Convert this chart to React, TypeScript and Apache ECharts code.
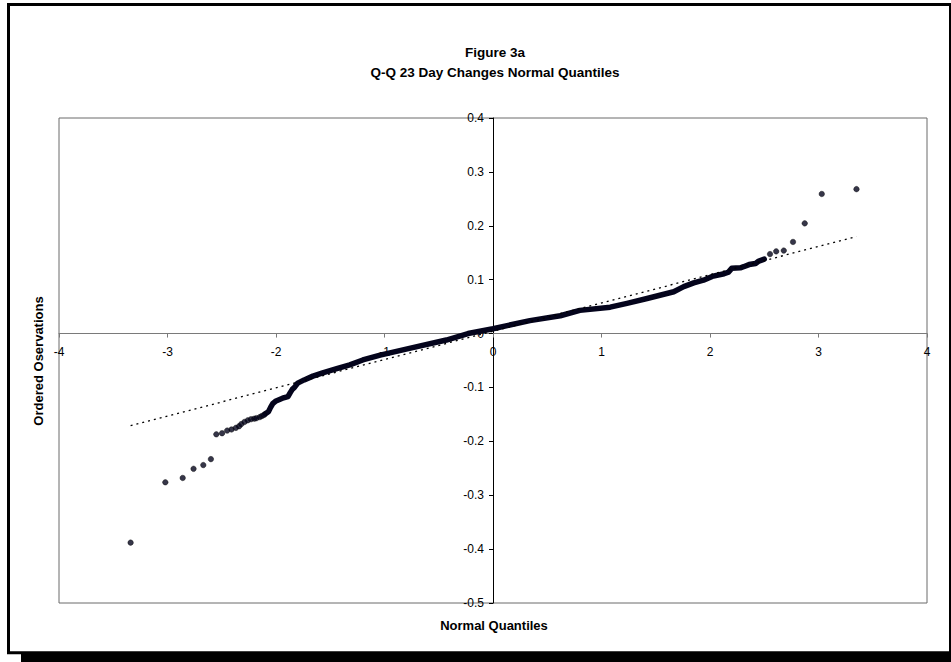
import React, { useEffect, useRef } from "react";
import * as echarts from "echarts";

const lowerTailQ = [-3.34, -3.02, -2.86, -2.76, -2.67, -2.6, -2.55, -2.497, -2.45, -2.41, -2.37, -2.34, -2.32, -2.29, -2.26, -2.23, -2.2, -2.18, -2.15, -2.13, -2.11];
const lowerTailV = [-0.388, -0.276, -0.268, -0.251, -0.244, -0.233, -0.187, -0.185, -0.18, -0.178, -0.175, -0.172, -0.168, -0.164, -0.161, -0.159, -0.158, -0.157, -0.155, -0.153, -0.151];

const curveQ = [-2.1, -2.07, -2.05, -2.03, -2.0, -1.94, -1.89, -1.87, -1.85, -1.83, -1.8, -1.74, -1.66, -1.57, -1.44, -1.32, -1.2, -1.04, -0.74, -0.43, -0.23, 0, 0.34, 0.62, 0.8, 1.08, 1.235, 1.42, 1.666, 1.758, 1.85, 1.94, 2.02, 2.13, 2.17, 2.2, 2.28, 2.31, 2.36, 2.42, 2.45, 2.5];
const curveV = [-0.149, -0.145, -0.137, -0.13, -0.125, -0.12, -0.117, -0.11, -0.1035, -0.1, -0.092, -0.086, -0.079, -0.073, -0.065, -0.058, -0.049, -0.04, -0.026, -0.012, 0.0, 0.009, 0.024, 0.033, 0.043, 0.049, 0.056, 0.065, 0.0776, 0.087, 0.094, 0.099, 0.106, 0.111, 0.114, 0.121, 0.122, 0.124, 0.128, 0.13, 0.1345, 0.138];

const upperTailQ = [2.553, 2.61, 2.68, 2.765, 2.873, 3.03, 3.35];
const upperTailV = [0.1475, 0.1525, 0.154, 0.17, 0.2045, 0.259, 0.268];

const trendQ = [-3.34, 3.35];
const trendV = [-0.171, 0.18];

const titleLines = ["Figure 3a", "Q-Q 23 Day Changes Normal Quantiles"];
const xAxisName = "Normal Quantiles";
const yAxisName = "Ordered Oservations";

const FONT = '"Liberation Sans", Arial, Helvetica, sans-serif';
const DOT = "#04041c";

const X_MIN = -4;
const X_MAX = 4;
const Y_MIN = -0.5;
const Y_MAX = 0.4;

const GRID = { left: 59, right: 24, top: 118, bottom: 59 };
const W = 951;
const H = 662;

const zip = (a: number[], b: number[]) => a.map((v, i) => [v, b[i]]);

export default function App() {
  const ref = useRef<HTMLDivElement>(null);

  useEffect(() => {
    if (!ref.current) return;
    const chart = echarts.init(ref.current, null, { renderer: "svg" });
    const tails = [...zip(lowerTailQ, lowerTailV), ...zip(upperTailQ, upperTailV)];

    // offsets so the axes (lines, ticks and labels) cross at the origin
    const gw = W - GRID.left - GRID.right;
    const gh = H - GRID.top - GRID.bottom;
    const xOffset = -(gh * (0 - Y_MIN)) / (Y_MAX - Y_MIN);
    const yOffset = -(gw * (0 - X_MIN)) / (X_MAX - X_MIN);

    chart.setOption({
      animation: false,
      backgroundColor: "transparent",
      grid: {
        ...GRID,
        show: true,
        borderColor: "#6b6b6b",
        borderWidth: 1,
        backgroundColor: "transparent",
      },
      xAxis: {
        type: "value",
        min: X_MIN,
        max: X_MAX,
        interval: 1,
        position: "bottom",
        offset: xOffset,
        axisLine: { onZero: false, lineStyle: { color: "#7a7a7a", width: 1 } },
        axisTick: { show: true, inside: false, length: 4, lineStyle: { color: "#7a7a7a" } },
        axisLabel: { color: "#000", fontSize: 12, fontFamily: FONT, margin: 12 },
        splitLine: { show: false },
      },
      yAxis: {
        type: "value",
        min: Y_MIN,
        max: Y_MAX,
        interval: 0.1,
        position: "left",
        offset: yOffset,
        axisLine: { onZero: false, lineStyle: { color: "#000", width: 1 } },
        axisTick: { show: true, inside: false, length: 4, lineStyle: { color: "#000" } },
        axisLabel: {
          color: "#000",
          fontSize: 12,
          fontFamily: FONT,
          margin: 9,
          formatter: (v: number) => String(Math.round(v * 10) / 10),
        },
        splitLine: { show: false },
      },
      graphic: [
        {
          type: "rect",
          z: -20,
          silent: true,
          shape: { x: 21, y: 30, width: 960, height: 640 },
          style: { fill: "#000" },
        },
        {
          type: "rect",
          z: -10,
          silent: true,
          shape: { x: 8.5, y: 4.5, width: 942, height: 648.3 },
          style: { fill: "#fff", stroke: "#000", lineWidth: 3 },
        },
        {
          type: "text",
          x: 495,
          y: 52,
          style: { text: titleLines[0], fill: "#000", font: `bold 13.5px ${FONT}`, align: "center", verticalAlign: "middle" },
        },
        {
          type: "text",
          x: 495,
          y: 72,
          style: { text: titleLines[1], fill: "#000", font: `bold 13.5px ${FONT}`, align: "center", verticalAlign: "middle" },
        },
        {
          type: "text",
          x: 494,
          y: 625,
          style: { text: xAxisName, fill: "#000", font: `bold 13px ${FONT}`, align: "center", verticalAlign: "middle" },
        },
        {
          type: "text",
          x: 38,
          y: 361,
          rotation: Math.PI / 2,
          style: { text: yAxisName, fill: "#000", font: `bold 13px ${FONT}`, align: "center", verticalAlign: "middle" },
        },
      ],
      series: [
        {
          name: "curve",
          type: "line",
          data: zip(curveQ, curveV),
          showSymbol: false,
          symbol: "none",
          z: 2,
          lineStyle: { color: DOT, width: 5.5, cap: "round", join: "round" },
          silent: true,
        },
        {
          name: "tails",
          type: "scatter",
          data: tails,
          symbol: "circle",
          symbolSize: 5.5,
          z: 3,
          itemStyle: { color: DOT, borderColor: "#000", borderWidth: 0.5 },
          silent: true,
        },
        {
          name: "trend",
          type: "line",
          data: zip(trendQ, trendV),
          showSymbol: false,
          symbol: "none",
          z: 4,
          lineStyle: { color: "#000", width: 1.3, type: [2, 4] },
          silent: true,
        },
      ],
    });
    return () => chart.dispose();
  }, []);

  return <div ref={ref} style={{ position: "absolute", left: 0, top: 0, width: W, height: H }} />;
}
